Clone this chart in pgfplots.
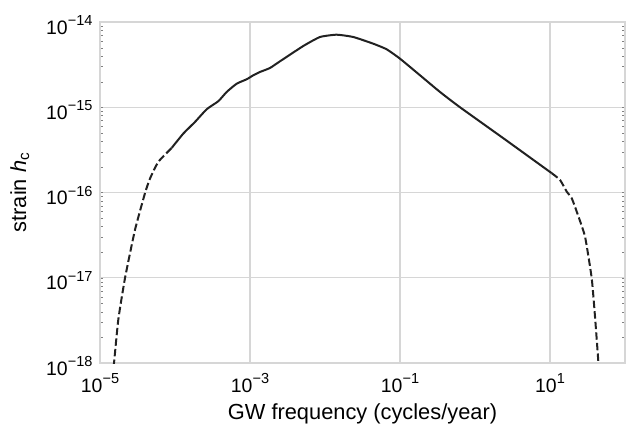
\documentclass[border=0pt]{standalone}
\usepackage{fontspec}
\setmainfont{Liberation Sans}
\usepackage{pgfplots}
\pgfplotsset{compat=1.18}
\definecolor{gridc}{gray}{0.84}
\definecolor{curve}{gray}{0.13}
\newcommand{\tl}[1]{10\raisebox{8.5bp}{\fontsize{14.6}{16}\selectfont #1}}
\begin{document}
\begin{tikzpicture}
\begin{axis}[
  xmode=log, ymode=log,
  scale only axis,
  width=525bp, height=341bp,
  xmin=1e-5, xmax=1e2,
  ymin=1e-18, ymax=1e-14,
  xtick={1e-5,1e-3,1e-1,1e1},
  xticklabels={\tl{−5},\tl{−3},\tl{−1},\tl{1}},
  ytick={1e-18,1e-17,1e-16,1e-15,1e-14},
  yticklabels={\tl{−18},\tl{−17},\tl{−16},\tl{−15},\tl{−14}},
  minor xtick={}, minor ytick={},
  major tick length=0pt,
  grid=major,
  major grid style={gridc, line width=1.1bp},
  axis line style={gridc, line width=1.3bp},
  tick label style={font=\fontsize{19.5}{22}\selectfont, black},
  label style={font=\fontsize{21.9}{24}\selectfont, black},
  xticklabel style={yshift=-7bp},
  yticklabel style={xshift=-4bp, yshift=-3bp},
  xlabel={GW frequency (cycles/year)},
  ylabel={strain \textit{h}\textsubscript{c}},
  xlabel style={yshift=-4bp},
  ylabel style={yshift=10bp},
  clip=true,
]
\addplot[curve, line width=2bp, dash pattern=on 7.4bp off 3.2bp, smooth, tension=0.3] coordinates {
(1.418e-5,5.1e-19) (1.538e-5,1.0e-18) (1.754e-5,3.22e-18) (2.154e-5,9.9e-18)
(2.929e-5,3.65e-17) (3.981e-5,9.83e-17) (4.642e-5,1.458e-16) (5.988e-5,2.287e-16)
(9.04e-5,3.337e-16)
};
\addplot[curve, line width=2bp, smooth, tension=0.3] coordinates {
(9.04e-5,3.337e-16) (1.290e-4,4.91e-16) (1.848e-4,6.73e-16) (2.647e-4,9.48e-16)
(3.778e-4,1.177e-15) (4.89e-4,1.512e-15) (6.646e-4,1.891e-15) (9.04e-4,2.130e-15)
(1.107e-3,2.373e-15) (1.359e-3,2.594e-15) (1.848e-3,2.89e-15) (2.512e-3,3.462e-15)
(5.136e-3,5.232e-15) (8.577e-3,6.67e-15) (1.432e-2,7.1e-15) (2.384e-2,6.67e-15)
(4.406e-2,5.567e-15) (6.647e-2,4.786e-15) (0.1,3.715e-15) (0.1848,2.373e-15)
(0.3413,1.512e-15) (0.631,1.0e-15) (2.384,4.336e-16) (10.54,1.686e-16)
};
\addplot[curve, line width=2bp, dash pattern=on 7.4bp off 3.2bp, smooth, tension=0.3] coordinates {
(10.54,1.686e-16) (13.59,1.407e-16) (16.70,1.026e-16) (19.47,8.59e-17)
(22.70,5.98e-17) (29.29,3.048e-17) (35.97,9.92e-18) (39.81,3.52e-18)
(44.06,1.045e-18) (45.7,4.9e-19)
};
\end{axis}
\pgfresetboundingbox
\path ([xshift=-100bp,yshift=-63bp]current axis.south west) rectangle ([xshift=16bp,yshift=22bp]current axis.north east);
\end{tikzpicture}
\end{document}
